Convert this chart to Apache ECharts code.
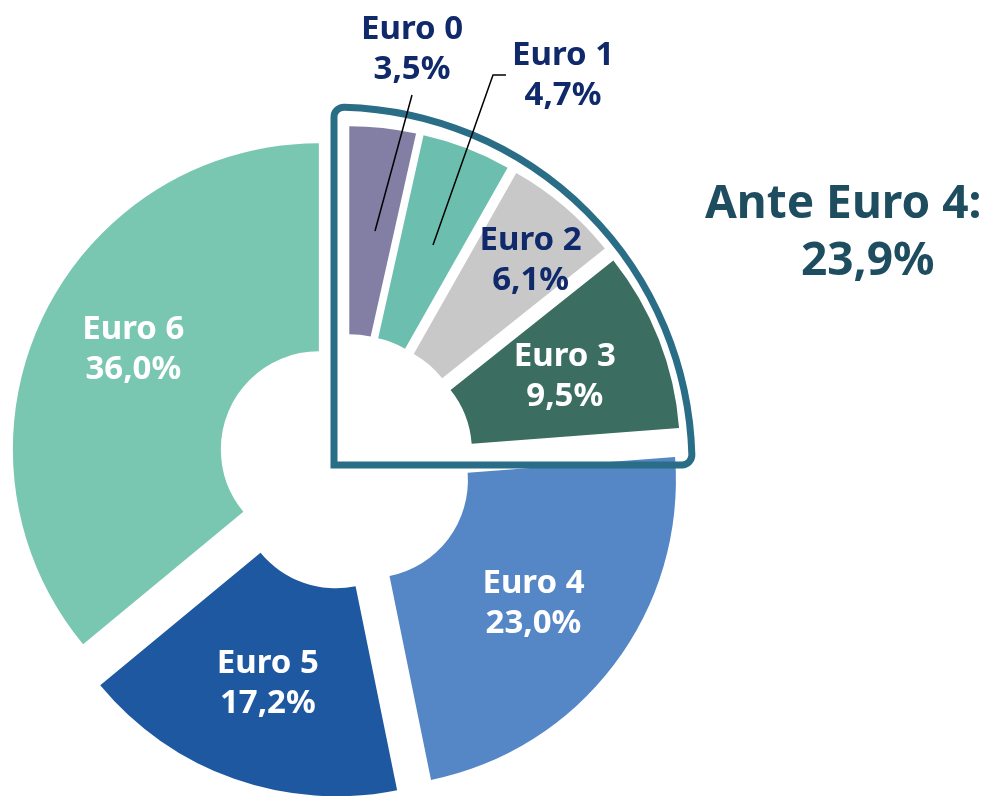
<!DOCTYPE html>
<html>
<head>
<meta charset="utf-8">
<script src="https://cdn.jsdelivr.net/npm/echarts@6/dist/echarts.min.js"></script>
<style>
  html, body { margin: 0; padding: 0; background: #fff; }
  #chart { width: 992px; height: 796px; }
</style>
</head>
<body>
<div id="chart"></div>
<script>
// classi Euro e quote sul parco (%)
var categories = ['Euro 0', 'Euro 1', 'Euro 2', 'Euro 3', 'Euro 4', 'Euro 5', 'Euro 6'];
var shares = [3.5, 4.7, 6.1, 9.5, 23.0, 17.2, 36.0];
var sliceColors = ['#827ea4', '#6cbfae', '#c8c8c8', '#3b6d61', '#5586c6', '#1d58a1', '#7ac7b1'];
var labelColors = ['#10296b', '#10296b', '#10296b', '#ffffff', '#ffffff', '#ffffff', '#ffffff'];
var anteEuro4 = 23.9;

function pct(v) {
  return v.toFixed(1).replace('.', ',') + '%';
}

var labelFont = 'bold 33px "Noto Sans"';
var chart = echarts.init(document.getElementById('chart'));

var pieData = categories.map(function (name, i) {
  return {
    name: name,
    value: shares[i],
    selected: true,
    itemStyle: { color: sliceColors[i] },
    // Euro 0 e 1 hanno l'etichetta fuori (disegnata sotto con graphic)
    label: { show: i >= 2, color: labelColors[i] }
  };
});

// etichette esterne con linee di richiamo
function outerLabel(i, x, y) {
  return {
    type: 'text',
    x: x, y: y,
    z: 20,
    style: {
      text: categories[i] + '\n' + pct(shares[i]),
      fill: labelColors[i],
      font: labelFont,
      lineHeight: 40,
      align: 'center',
      verticalAlign: 'middle'
    }
  };
}

var option = {
  backgroundColor: '#ffffff',
  animation: false,
  graphic: [
    {
      type: 'sector',
      shape: { cx: 334, cy: 465, r0: 0, r: 358, startAngle: -Math.PI / 2, endAngle: 0, cornerRadius: 10 },
      style: { fill: 'none', stroke: '#2a6d86', lineWidth: 7 },
      z: 10
    },
    outerLabel(0, 412, 50),
    outerLabel(1, 563, 76),
    {
      type: 'polyline', z: 20,
      shape: { points: [[412, 95], [375, 231]] },
      style: { stroke: '#000', lineWidth: 1.5, fill: 'none' }
    },
    {
      type: 'polyline', z: 20,
      shape: { points: [[506, 75], [493, 75], [433, 245]] },
      style: { stroke: '#000', lineWidth: 1.5, fill: 'none' }
    },
    {
      type: 'text',
      left: 705, top: 182,
      style: { text: 'Ante Euro 4:', fill: '#1d4d5f', font: 'bold 46px "Noto Sans"' }
    },
    {
      type: 'text',
      left: 801, top: 239,
      style: { text: pct(anteEuro4), fill: '#1d4d5f', font: 'bold 46px "Noto Sans"' }
    }
  ],
  series: [{
    type: 'pie',
    center: [346, 462],
    radius: [98, 306],
    startAngle: 90,
    clockwise: true,
    selectedMode: 'multiple',
    selectedOffset: 30,
    avoidLabelOverlap: false,
    emphasis: { disabled: true },
    label: {
      show: true,
      position: 'inside',
      formatter: function (p) { return p.name + '\n' + pct(p.value); },
      fontFamily: 'Noto Sans',
      fontWeight: 'bold',
      fontSize: 33,
      lineHeight: 40,
      align: 'center'
    },
    labelLine: { show: false },
    labelLayout: function (params) {
      // Euro 2: etichetta spinta verso il bordo esterno
      if (params.dataIndex === 2) return { dx: 32, dy: -23 };
      if (params.dataIndex === 6) return { dy: -12 };
      return {};
    },
    data: pieData
  }]
};

chart.setOption(option);
</script>
</body>
</html>
